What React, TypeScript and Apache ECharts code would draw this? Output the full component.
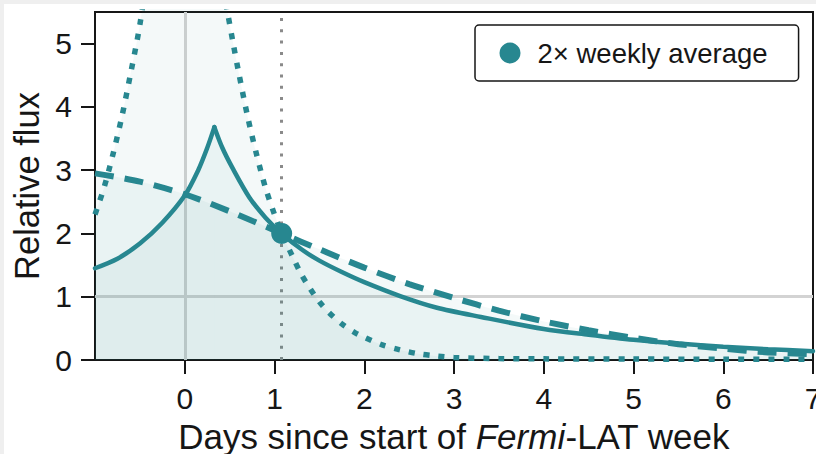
import React, { useEffect, useRef } from "react";
import * as echarts from "echarts";

const TEAL = "#278790";
const INK = "#161616";
const FONT = "'Liberation Sans', Arial, Helvetica, sans-serif";

// Axis ticks
const X_TICKS = [0, 1, 2, 3, 4, 5, 6, 7];
const Y_TICKS = [0, 1, 2, 3, 4, 5];

// Reference markers
const WEEK_START = 0;
const UNIT_FLUX = 1;
const AVERAGE_DAY = 1.08;
const AVERAGE_FLUX = 2.0;
const AVERAGE_LABEL = "2\u00d7 weekly average";

// Solid profile: rise to the flare peak, then decay
const solidRiseDays = [-1.0, -0.75, -0.5, -0.25, 0.0, 0.15, 0.25, 0.33];
const solidRiseFlux = [1.45, 1.6, 1.84, 2.17, 2.6, 3.0, 3.35, 3.68];
const solidDecayDays = [0.33, 0.42, 0.53, 0.72, 0.9, 1.08, 1.3, 1.5, 1.75, 2.0, 2.4, 2.8, 3.3, 4.0, 4.5, 5.0, 5.5, 6.0, 6.5, 7.0];
const solidDecayFlux = [3.68, 3.35, 3.04, 2.57, 2.25, 2.0, 1.75, 1.57, 1.39, 1.23, 1.01, 0.83, 0.68, 0.49, 0.4, 0.32, 0.26, 0.21, 0.17, 0.14];

// Dashed profile: slow decline through the week
const dashedDays = [-1.0, -0.5, 0.0, 0.5, 1.08, 1.5, 2.0, 2.5, 3.0, 3.5, 4.0, 4.5, 5.0, 5.5, 6.0, 6.5, 7.0];
const dashedFlux = [2.95, 2.82, 2.62, 2.35, 2.0, 1.75, 1.46, 1.2, 0.98, 0.78, 0.61, 0.47, 0.35, 0.25, 0.18, 0.12, 0.09];

// Dotted profile: sharp flare, rise and decay
const dottedRiseDays = [-1.0, -0.9, -0.8, -0.7, -0.6, -0.5, -0.4, -0.2, 0.0];
const dottedRiseFlux = [2.3, 2.72, 3.25, 3.85, 4.55, 5.3, 6.3, 8.8, 12.0];
const dottedDecayDays = [0.0, 0.2, 0.4, 0.48, 0.54, 0.6, 0.7, 0.8, 0.9, 1.0, 1.08, 1.2, 1.3, 1.4, 1.5, 1.6, 1.75, 1.9, 2.0, 2.2, 2.4, 2.6, 2.8, 3.0, 3.5, 4.0, 5.0, 6.0, 7.0];
const dottedDecayFlux = [12.0, 8.6, 6.1, 5.47, 5.0, 4.55, 3.85, 3.25, 2.72, 2.3, 2.0, 1.64, 1.35, 1.12, 0.92, 0.76, 0.57, 0.43, 0.36, 0.24, 0.16, 0.1, 0.065, 0.04, 0.022, 0.018, 0.015, 0.012, 0.012];

const pairs = (xs: number[], ys: number[]) => xs.map((x, i) => [x, ys[i]]);

function curve(name: string, xs: number[], ys: number[], lineStyle: any) {
  return {
    name,
    type: "line",
    data: pairs(xs, ys),
    smooth: 0.3,
    showSymbol: false,
    symbol: "none",
    silent: true,
    z: 2,
    clip: true,
    lineStyle: { color: TEAL, ...lineStyle },
    areaStyle: { color: TEAL, opacity: 0.05 },
  };
}

const SOLID = { width: 4.5, type: "solid", cap: "round" };
const DASHED = { width: 6, type: [19, 11], cap: "butt" };
const DOTTED = { width: 5.5, type: [6, 9], cap: "butt" };

export default function App() {
  const ref = useRef<HTMLDivElement>(null);

  useEffect(() => {
    if (!ref.current) return;
    const chart = echarts.init(ref.current, undefined, { renderer: "svg" });
    chart.setOption({
      animation: false,
      backgroundColor: "#ffffff",
      textStyle: { fontFamily: FONT, color: INK },
      grid: {
        left: 91,
        top: 8,
        width: 718,
        height: 348,
        outerBoundsMode: "none",
        containLabel: false,
        show: true,
        borderColor: INK,
        borderWidth: 2,
        backgroundColor: "transparent",
      },
      legend: {
        data: [AVERAGE_LABEL],
        left: 471,
        top: 21,
        orient: "horizontal",
        icon: "circle",
        itemWidth: 45,
        itemHeight: 21,
        padding: [14, 31, 14, 24.5],
        borderColor: INK,
        borderWidth: 1.5,
        borderRadius: 4,
        backgroundColor: "#ffffff",
        itemStyle: { opacity: 1 },
        textStyle: { fontFamily: FONT, fontSize: 27.5, color: INK },
      },
      xAxis: {
        type: "value",
        min: -1,
        max: 7,
        interval: 1,
        name: "Days since start of {i|Fermi}-LAT week",
        nameLocation: "middle",
        nameGap: 59,
        nameTextStyle: {
          fontFamily: FONT,
          fontSize: 35,
          lineHeight: 34,
          color: INK,
          rich: { i: { fontFamily: FONT, fontSize: 35, lineHeight: 34, fontStyle: "italic", color: INK } },
        },
        axisLine: { show: false, onZero: false },
        axisTick: { show: true, length: 14, customValues: X_TICKS, lineStyle: { color: INK, width: 2 } },
        axisLabel: { customValues: X_TICKS, margin: 23, fontSize: 30, fontFamily: FONT, color: INK },
        splitLine: { show: false },
      },
      yAxis: {
        type: "value",
        min: 0,
        max: 5.5,
        interval: 1,
        name: "Relative flux",
        nameLocation: "middle",
        nameGap: 50,
        nameTextStyle: { fontFamily: FONT, fontSize: 34.5, color: INK },
        axisLine: { show: false, onZero: false },
        axisTick: { show: true, length: 14, customValues: Y_TICKS, lineStyle: { color: INK, width: 2 } },
        axisLabel: { customValues: Y_TICKS, margin: 23, fontSize: 30, fontFamily: FONT, color: INK },
        splitLine: { show: false },
      },
      series: [
        curve("dotted rise", dottedRiseDays, dottedRiseFlux, DOTTED),
        curve("dotted decay", dottedDecayDays, dottedDecayFlux, DOTTED),
        curve("dashed", dashedDays, dashedFlux, DASHED),
        curve("solid rise", solidRiseDays, solidRiseFlux, SOLID),
        curve("solid decay", solidDecayDays, solidDecayFlux, SOLID),
        {
          name: AVERAGE_LABEL,
          type: "scatter",
          data: [[AVERAGE_DAY, AVERAGE_FLUX]],
          symbol: "circle",
          symbolSize: 21,
          itemStyle: { color: TEAL, opacity: 1 },
          z: 3,
          silent: true,
          markLine: {
            z: 1,
            silent: true,
            symbol: "none",
            label: { show: false },
            emphasis: { disabled: true },
            data: [
              { xAxis: WEEK_START, lineStyle: { color: "#d3d3d3", width: 3, type: "solid", opacity: 1 } },
              { yAxis: UNIT_FLUX, lineStyle: { color: "#d3d3d3", width: 3, type: "solid", opacity: 1 } },
              { xAxis: AVERAGE_DAY, lineStyle: { color: "#8a8a8a", width: 3, type: [3, 8.3], opacity: 1 } },
            ],
          },
        },
      ],
    });
    return () => chart.dispose();
  }, []);

  return (
    <div style={{ position: "fixed", left: 0, top: 0, width: 816, height: 454, background: "#efefef" }}>
      <div ref={ref} style={{ position: "absolute", left: 4, top: 4, width: 812, height: 450 }} />
    </div>
  );
}
